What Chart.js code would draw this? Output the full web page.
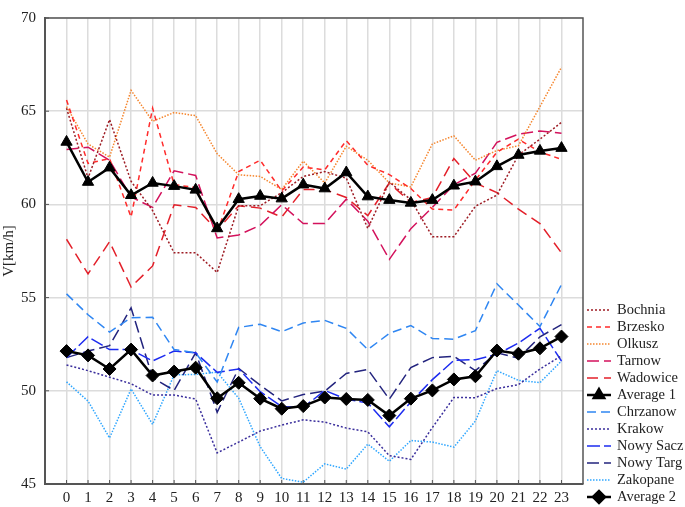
<!DOCTYPE html>
<html>
<head>
<meta charset="utf-8">
<script src="https://cdn.jsdelivr.net/npm/chart.js@4.4.1/dist/chart.umd.min.js"></script>
<style>
  body { margin: 0; background: #fff; }
  #speedChart { display: block; }
</style>
</head>
<body>
<canvas id="speedChart" width="685" height="507"></canvas>
<script>
const hours = [0, 1, 2, 3, 4, 5, 6, 7, 8, 9, 10, 11, 12, 13, 14, 15, 16, 17, 18, 19, 20, 21, 22, 23];

// upper group
const bochnia  = [65.16, 61.41, 64.55, 61.24, 59.67, 57.4, 57.4, 56.35, 59.93, 59.93, 60.63, 61.5, 61.76, 61.41, 58.71, 61.2, 60.25, 58.27, 58.27, 59.9, 60.5, 62.65, 63.5, 64.4];
const brzesko  = [65.6, 62.2, 62.46, 59.32, 65.16, 61.06, 60.9, 58.5, 61.76, 62.37, 60.72, 62.0, 61.85, 63.42, 62.1, 61.6, 60.85, 59.75, 59.7, 61.3, 62.8, 63.5, 62.81, 62.42];
const olkusz   = [65.25, 63.24, 62.54, 66.12, 64.46, 64.93, 64.76, 62.72, 61.59, 61.5, 60.8, 62.32, 61.15, 63.12, 62.37, 61.15, 60.94, 63.24, 63.68, 62.37, 62.89, 63.15, 65.25, 67.36];
const tarnow   = [62.95, 63.07, 62.37, 60.4, 59.84, 61.8, 61.55, 58.2, 58.36, 58.88, 59.98, 58.97, 58.97, 60.28, 59.1, 57.05, 58.7, 59.84, 61.06, 61.67, 63.33, 63.77, 63.94, 63.82];
const wadowice = [58.13, 56.27, 58.0, 55.57, 56.7, 59.98, 59.84, 58.6, 59.93, 59.8, 59.32, 60.8, 60.8, 60.37, 59.4, 61.15, 60.1, 60.37, 62.46, 61.15, 60.63, 59.75, 58.97, 57.4];
const average1 = [63.35, 61.2, 61.97, 60.49, 61.15, 60.98, 60.78, 58.71, 60.28, 60.45, 60.31, 61.06, 60.85, 61.71, 60.42, 60.23, 60.08, 60.23, 61.0, 61.22, 62.04, 62.65, 62.87, 63.02];

// lower group
const chrzanow = [55.2, 54.08, 53.15, 53.92, 53.94, 52.21, 52.04, 50.47, 53.4, 53.57, 53.17, 53.64, 53.78, 53.35, 52.21, 53.08, 53.5, 52.81, 52.77, 53.23, 55.74, 54.6, 53.45, 55.7];
const krakow   = [51.38, 51.08, 50.73, 50.38, 49.77, 49.77, 49.56, 46.67, 47.25, 47.84, 48.16, 48.44, 48.32, 48.0, 47.8, 46.52, 46.32, 48.03, 49.64, 49.63, 50.12, 50.33, 51.17, 51.88];
const nowySacz = [51.78, 52.9, 52.21, 52.21, 51.6, 52.13, 52.04, 50.99, 51.17, 49.95, 49.16, 49.1, 50.02, 49.55, 49.34, 48.07, 49.4, 50.6, 51.63, 51.67, 51.95, 52.56, 53.35, 51.6];
const nowyTarg = [51.78, 52.13, 52.42, 54.45, 50.7, 50.02, 52.04, 48.85, 51.2, 50.3, 49.46, 49.8, 49.98, 50.93, 51.15, 49.55, 51.25, 51.78, 51.85, 51.08, 52.04, 51.75, 52.9, 53.55];
const zakopane = [50.48, 49.45, 47.47, 50.1, 48.2, 50.85, 50.88, 51.0, 49.6, 47.0, 45.3, 45.1, 46.08, 45.8, 47.14, 46.22, 47.33, 47.25, 46.98, 48.38, 51.08, 50.56, 50.44, 51.6];
const average2 = [52.13, 51.9, 51.17, 52.21, 50.82, 51.03, 51.24, 49.6, 50.43, 49.58, 49.04, 49.18, 49.64, 49.56, 49.51, 48.67, 49.58, 50.02, 50.61, 50.78, 52.16, 51.99, 52.28, 52.91];

const yTicks = [45, 50, 55, 60, 65, 70];

const pts = arr => arr.map((v, i) => ({ x: hours[i], y: v }));

function series(label, values, color, dash, width) {
    return {
        label: label,
        data: pts(values),
        borderColor: color,
        backgroundColor: color,
        borderWidth: width || 1.5,
        borderDash: dash,
        pointRadius: 0,
        tension: 0,
        order: 1
    };
}

function average(label, values, marker) {
    return {
        label: label,
        data: pts(values),
        borderColor: '#000',
        backgroundColor: '#000',
        borderWidth: 2.5,
        pointStyle: marker,
        pointRadius: 6.5,
        pointBorderWidth: 1,
        tension: 0,
        order: 0
    };
}

const datasets = [
    series('Bochnia', bochnia, '#9e1c24', [2, 2]),
    series('Brzesko', brzesko, '#ff2b2b', [5, 4]),
    series('Olkusz', olkusz, '#f5862e', [1.5, 1.5]),
    series('Tarnow', tarnow, '#d3125c', [12, 5]),
    series('Wadowice', wadowice, '#e3202a', [11, 6]),
    average('Average 1', average1, 'triangle'),
    series('Chrzanow', chrzanow, '#2f86f2', [9, 5]),
    series('Krakow', krakow, '#3a2e9c', [2, 2]),
    series('Nowy Sacz', nowySacz, '#1d2cf0', [13, 4]),
    series('Nowy Targ', nowyTarg, '#23247e', [12, 5]),
    series('Zakopane', zakopane, '#2ea6ff', [1.5, 1.5]),
    average('Average 2', average2, 'rectRot')
];

const FONT = 'Liberation Serif';

// frame on top/right plus small inner ticks
const framePlugin = {
    id: 'frame',
    beforeDatasetsDraw(chart) {
        const { ctx, chartArea: a, scales } = chart;
        ctx.save();
        ctx.strokeStyle = '#555';
        ctx.lineWidth = 1.5;
        ctx.beginPath();
        ctx.moveTo(a.left, a.top);
        ctx.lineTo(a.right, a.top);
        ctx.lineTo(a.right, a.bottom);
        ctx.stroke();
        ctx.lineWidth = 1;
        ctx.beginPath();
        hours.forEach(h => {
            const x = scales.x.getPixelForValue(h);
            ctx.moveTo(x, a.bottom);
            ctx.lineTo(x, a.bottom - 4);
        });
        yTicks.forEach(v => {
            const y = scales.y.getPixelForValue(v);
            ctx.moveTo(a.left, y);
            ctx.lineTo(a.left + 4, y);
        });
        ctx.stroke();
        ctx.restore();
    }
};

// legend in the lower right corner
const legendPlugin = {
    id: 'sideLegend',
    afterDraw(chart) {
        const ctx = chart.ctx;
        const x0 = 587, x1 = 611, tx = 617;
        let y = 310;
        ctx.save();
        ctx.font = '14.5px "' + FONT + '"';
        ctx.textBaseline = 'middle';
        chart.data.datasets.forEach(ds => {
            ctx.strokeStyle = ds.borderColor;
            ctx.lineWidth = ds.borderWidth;
            ctx.setLineDash(ds.borderDash || []);
            ctx.beginPath();
            ctx.moveTo(x0, y);
            ctx.lineTo(x1, y);
            ctx.stroke();
            ctx.setLineDash([]);
            if (ds.pointStyle) {
                ctx.fillStyle = '#000';
                Chart.helpers.drawPoint(ctx, { pointStyle: ds.pointStyle, radius: 6, rotation: 0, borderWidth: 1 }, (x0 + x1) / 2, y);
            }
            ctx.fillStyle = '#222';
            ctx.fillText(ds.label, tx, y);
            y += 17;
        });
        ctx.restore();
    }
};

const config = {
    type: 'line',
    data: { datasets: datasets },
    options: {
        responsive: false,
        animation: false,
        devicePixelRatio: 1,
        layout: { padding: { top: 6, right: 102, left: 0, bottom: 0 } },
        plugins: {
            legend: { display: false },
            tooltip: { enabled: false }
        },
        scales: {
            x: {
                type: 'linear',
                min: -1,
                max: 24,
                afterFit: s => { s.height = 23; },
                afterBuildTicks: s => { s.ticks = hours.map(h => ({ value: h })); },
                ticks: {
                    autoSkip: false,
                    maxRotation: 0,
                    padding: 5,
                    color: '#222',
                    font: { family: FONT, size: 15 }
                },
                grid: { color: '#dcdcdc', lineWidth: 1.5, drawTicks: false },
                border: { color: '#555', width: 2 }
            },
            y: {
                min: 45,
                max: 70,
                afterFit: s => { s.width = 45; },
                afterBuildTicks: s => { s.ticks = yTicks.map(v => ({ value: v })); },
                ticks: {
                    padding: 9,
                    color: '#222',
                    font: { family: FONT, size: 15 }
                },
                title: {
                    display: true,
                    text: 'V[km/h]',
                    color: '#222',
                    padding: 0,
                    font: { family: FONT, size: 15 }
                },
                grid: { color: '#dcdcdc', lineWidth: 1.5, drawTicks: false },
                border: { color: '#555', width: 2 }
            }
        }
    },
    plugins: [framePlugin, legendPlugin]
};

const speedChart = new Chart(document.getElementById('speedChart').getContext('2d'), config);
</script>
</body>
</html>
